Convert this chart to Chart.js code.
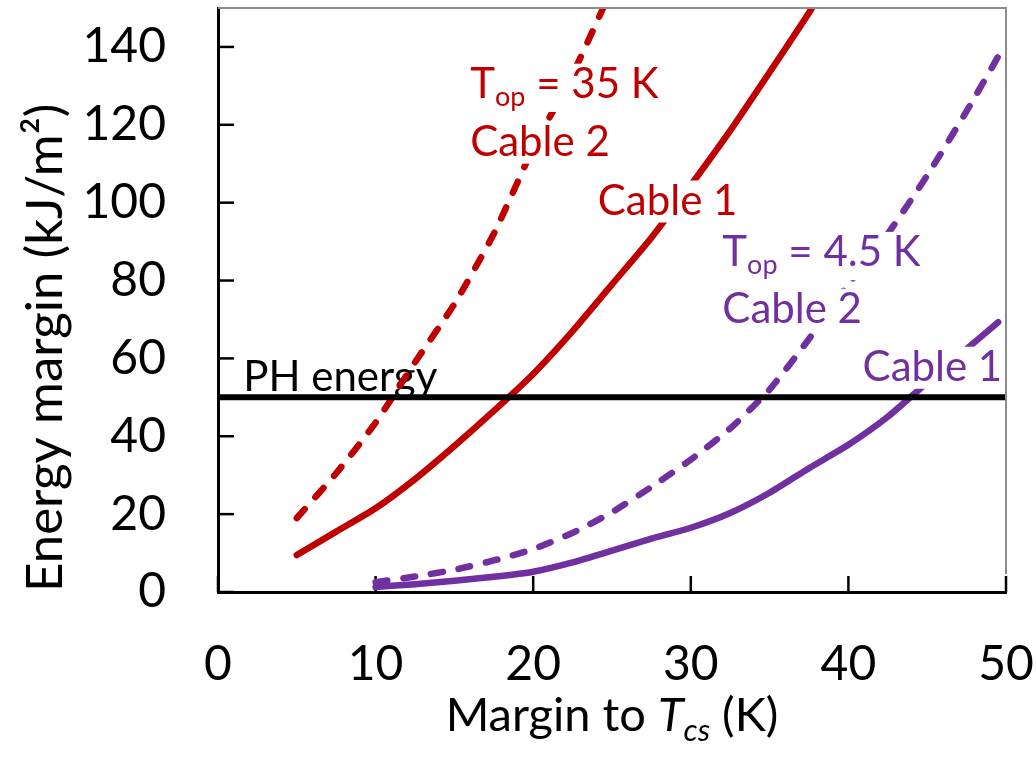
<!DOCTYPE html>
<html>
<head>
<meta charset="utf-8">
<script src="https://cdn.jsdelivr.net/npm/chart.js@4.4.0/dist/chart.umd.min.js"></script>
<style>
  html, body { margin: 0; padding: 0; background: #fff; }
</style>
</head>
<body>
<canvas id="myChart" width="1036" height="757"></canvas>
<script>
// T_op = 35 K
const hotCable2X = [5, 7.5, 10, 12.5, 15, 17.5, 20, 22.5, 25];
const hotCable2Y = [19, 30.5, 43.5, 59, 74, 92, 114, 133, 155];
const hotCable1X = [5, 7.5, 10, 12.5, 15, 17.5, 20, 22.5, 25, 27.5, 30, 32.5, 35, 37.5, 40];
const hotCable1Y = [9.5, 15.5, 21.5, 29, 37.5, 46.5, 56, 67, 79, 91, 104.5, 118.5, 133.5, 148.8, 165];

// T_op = 4.5 K
const coldCable2X = [10, 12.5, 15, 17.5, 20, 22.5, 25, 27.5, 30, 32.5, 35, 37.5, 40, 42.5, 45, 47.5, 49.5];
const coldCable2Y = [2.5, 4, 5.7, 8.1, 11, 15.2, 20.5, 27, 34, 42, 52, 65, 79, 92, 107, 123.5, 137.5];
const coldCable1X = [10, 12.5, 15, 17.5, 20, 22.5, 25, 27.5, 30, 32.5, 35, 37.5, 40, 42.5, 45, 47.5, 49.5];
const coldCable1Y = [1.3, 2, 2.9, 3.9, 5.2, 7.6, 10.6, 13.7, 16.5, 20.3, 25.5, 31.8, 37.8, 45, 53.8, 62.4, 69.3];

const phEnergyX = [0, 50];
const phEnergyY = [50, 50];

const xTicks = [0, 10, 20, 30, 40, 50];
const yTicks = [0, 20, 40, 60, 80, 100, 120, 140];

const red = '#C00000';
const purple = '#7030A0';
const fontName = 'Lato, "Open Sans", sans-serif';

function toPoints(xs, ys) {
  return xs.map((x, i) => ({ x: x, y: ys[i] }));
}

// text labels placed in data coordinates
const notes = [
  { text: 'PH energy', x: 1.6, y: 55, color: '#000', boxed: false },
  { text: 'T', sub: 'op', rest: ' = 35 K', x: 16.0, y: 130.3, color: red, boxed: true },
  { text: 'Cable 2', x: 16.0, y: 115.4, color: red, boxed: true },
  { text: 'Cable 1', x: 24.1, y: 100.3, color: red, boxed: true },
  { text: 'T', sub: 'op', rest: ' = 4.5 K', x: 32.0, y: 87.1, color: purple, boxed: true },
  { text: 'Cable 2', x: 32.0, y: 72.5, color: purple, boxed: true },
  { text: 'Cable 1', x: 40.9, y: 57.6, color: purple, boxed: true }
];

function drawNote(ctx, chart, n) {
  const xs = chart.scales.x, ys = chart.scales.y;
  const px = xs.getPixelForValue(n.x);
  const py = ys.getPixelForValue(n.y);
  const size = 42;
  ctx.save();
  ctx.textBaseline = 'middle';
  ctx.textAlign = 'left';
  ctx.font = size + 'px ' + fontName;
  let w = ctx.measureText(n.text).width;
  let subW = 0, restW = 0;
  if (n.sub) {
    ctx.font = Math.round(size * 0.65) + 'px ' + fontName;
    subW = ctx.measureText(n.sub).width;
    ctx.font = size + 'px ' + fontName;
    restW = ctx.measureText(n.rest).width;
  }
  if (n.boxed) {
    ctx.fillStyle = '#fff';
    ctx.fillRect(px - 2, py - size * 0.5, w + subW + restW + 4, size * (n.sub ? 1.15 : 1.0));
  }
  ctx.fillStyle = n.color;
  ctx.font = size + 'px ' + fontName;
  ctx.fillText(n.text, px, py);
  if (n.sub) {
    ctx.font = Math.round(size * 0.65) + 'px ' + fontName;
    ctx.fillText(n.sub, px + w, py + size * 0.3);
    ctx.font = size + 'px ' + fontName;
    ctx.fillText(n.rest, px + w + subW, py);
  }
  ctx.restore();
}

const notesPlugin = {
  id: 'notes',
  beforeDatasetsDraw(chart) {
    const ctx = chart.ctx;
    const { left, right, top, bottom } = chart.chartArea;
    ctx.save();
    ctx.strokeStyle = '#000';
    ctx.lineWidth = 2.5;
    chart.scales.y.ticks.forEach(t => {
      const y = chart.scales.y.getPixelForValue(t.value);
      ctx.beginPath(); ctx.moveTo(left, y); ctx.lineTo(left + 16, y); ctx.stroke();
    });
    chart.scales.x.ticks.forEach(t => {
      const x = chart.scales.x.getPixelForValue(t.value);
      ctx.beginPath(); ctx.moveTo(x, bottom); ctx.lineTo(x, bottom - 16); ctx.stroke();
    });
    ctx.restore();
    notes.filter(n => !n.boxed).forEach(n => drawNote(ctx, chart, n));
  },
  afterDatasetsDraw(chart) {
    notes.filter(n => n.boxed).forEach(n => drawNote(chart.ctx, chart, n));
  },
  afterDraw(chart) {
    const ctx = chart.ctx;
    const { left, right, top, bottom } = chart.chartArea;
    ctx.save();
    // top & right frame
    ctx.strokeStyle = '#8c8c8c';
    ctx.lineWidth = 2;
    ctx.beginPath();
    ctx.moveTo(left, top); ctx.lineTo(right, top); ctx.lineTo(right, bottom - 18);
    ctx.stroke();
    // x axis title with italic T_cs
    const size = 47;
    const base = 731;
    ctx.fillStyle = '#000';
    ctx.textBaseline = 'alphabetic';
    ctx.textAlign = 'left';
    const p1 = 'Margin to ', p2 = 'T', p3 = 'cs', p4 = ' (K)';
    ctx.font = size + 'px ' + fontName;
    const w1 = ctx.measureText(p1).width, w4 = ctx.measureText(p4).width;
    ctx.font = 'italic ' + size + 'px ' + fontName;
    const w2 = ctx.measureText(p2).width;
    ctx.font = 'italic ' + Math.round(size * 0.65) + 'px ' + fontName;
    const w3 = ctx.measureText(p3).width;
    let x = (left + right) / 2 - (w1 + w2 + w3 + w4) / 2;
    ctx.font = size + 'px ' + fontName;
    ctx.fillText(p1, x, base); x += w1;
    ctx.font = 'italic ' + size + 'px ' + fontName;
    ctx.fillText(p2, x, base); x += w2;
    ctx.font = 'italic ' + Math.round(size * 0.65) + 'px ' + fontName;
    ctx.fillText(p3, x, base + size * 0.22); x += w3;
    ctx.font = size + 'px ' + fontName;
    ctx.fillText(p4, x, base);
    ctx.restore();
  }
};

const lineStyle = { borderWidth: 6.5, pointRadius: 0, tension: 0.2, fill: false, clip: 0, borderCapStyle: 'round' };

new Chart(document.getElementById('myChart').getContext('2d'), {
  type: 'line',
  data: {
    datasets: [
      Object.assign({ label: 'PH energy', data: toPoints(phEnergyX, phEnergyY), borderColor: '#000' }, lineStyle, { borderWidth: 6, tension: 0, borderCapStyle: 'butt' }),
      Object.assign({ label: 'T_op = 35 K Cable 2', data: toPoints(hotCable2X, hotCable2Y), borderColor: red, borderDash: [12, 16] }, lineStyle),
      Object.assign({ label: 'T_op = 35 K Cable 1', data: toPoints(hotCable1X, hotCable1Y), borderColor: red }, lineStyle),
      Object.assign({ label: 'T_op = 4.5 K Cable 2', data: toPoints(coldCable2X, coldCable2Y), borderColor: purple, borderDash: [12, 16] }, lineStyle),
      Object.assign({ label: 'T_op = 4.5 K Cable 1', data: toPoints(coldCable1X, coldCable1Y), borderColor: purple }, lineStyle)
    ]
  },
  options: {
    responsive: false,
    animation: false,
    layout: { padding: { left: 0, top: 8, right: 30, bottom: 0 } },
    plugins: { legend: { display: false }, tooltip: { enabled: false } },
    scales: {
      x: {
        type: 'linear',
        min: 0, max: 50,
        afterBuildTicks: s => { s.ticks = xTicks.map(v => ({ value: v })); },
        afterFit: s => { s.height = 165; s.paddingLeft = 0; s.paddingRight = 0; },
        grid: { display: false, drawTicks: false },
        border: { display: true, color: '#000', width: 3 },
        ticks: { color: '#000', padding: 44, font: { family: fontName, size: 48 } }
      },
      y: {
        type: 'linear',
        min: 0, max: 150,
        afterBuildTicks: s => { s.ticks = yTicks.map(v => ({ value: v })); },
        afterFit: s => { s.width = 218; s.paddingTop = 0; s.paddingBottom = 0; },
        grid: { display: false, drawTicks: false },
        border: { display: true, color: '#000', width: 3 },
        ticks: { color: '#000', padding: 52, font: { family: fontName, size: 48 } },
        title: { display: true, align: 'start', text: 'Energy margin (kJ/m²)', color: '#000', padding: { top: 15, bottom: 0 }, font: { family: fontName, size: 51 } }
      }
    }
  },
  plugins: [notesPlugin]
});
</script>
</body>
</html>
